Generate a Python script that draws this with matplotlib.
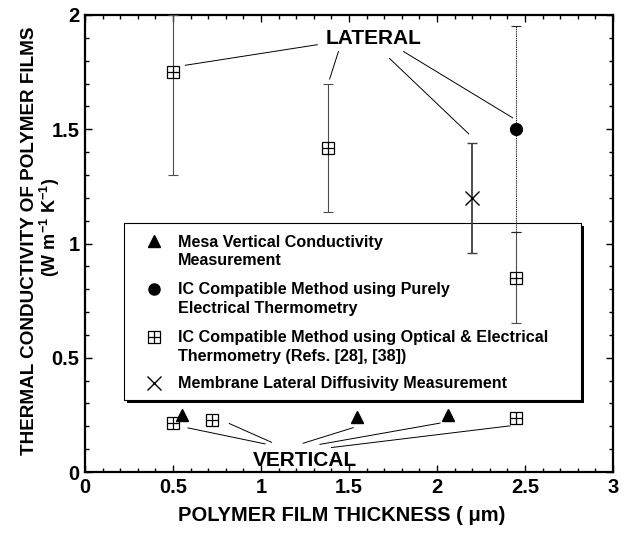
import matplotlib
matplotlib.use("Agg")
import matplotlib.pyplot as plt
from matplotlib.patches import Rectangle
from matplotlib.ticker import MultipleLocator

plt.rcParams['font.family'] = ['Liberation Sans', 'DejaVu Sans']
plt.rcParams['font.weight'] = 'bold'
plt.rcParams['mathtext.default'] = 'regular'

# lateral measurements (value, lower end, upper end of error bar)
lat_sq_x = [0.5, 1.38, 2.45]
lat_sq_y = [1.75, 1.42, 0.85]
lat_sq_lo = [1.30, 1.14, 0.65]
lat_sq_hi = [2.00, 1.70, 1.05]

circ_x = [2.45]
circ_y = [1.50]
circ_lo = [1.05]
circ_hi = [1.95]

memb_x = [2.20]
memb_y = [1.20]
memb_lo = [0.96]
memb_hi = [1.44]

# vertical measurements
mesa_x = [0.55, 1.545, 2.06]
mesa_y = [0.25, 0.24, 0.25]
vert_sq_x = [0.5, 0.72, 2.45]
vert_sq_y = [0.215, 0.227, 0.235]

# leader lines: (x0, y0, x1, y1)
lateral_leaders = [(0.57, 1.78, 1.32, 1.87),
                   (1.39, 1.72, 1.44, 1.84),
                   (2.18, 1.48, 1.73, 1.81),
                   (2.43, 1.55, 1.81, 1.84)]
vertical_leaders = [(0.585, 0.193, 1.023, 0.123),
                    (0.82, 0.212, 1.06, 0.13),
                    (1.524, 0.194, 1.24, 0.126),
                    (2.017, 0.214, 1.335, 0.121),
                    (2.415, 0.202, 1.40, 0.107)]

legend_labels = ["Mesa Vertical Conductivity\nMeasurement",
                 "IC Compatible Method using Purely\nElectrical Thermometry",
                 "IC Compatible Method using Optical & Electrical\nThermometry (Refs. [28], [38])",
                 "Membrane Lateral Diffusivity Measurement"]


def boxplus(ax, x, y, ms=8, **kw):
    ax.plot(x, y, 's', ms=ms, mfc='white', mec='black', mew=0.9, ls='none', **kw)
    ax.plot(x, y, '+', ms=ms, mec='black', mew=0.9, ls='none', **kw)


fig = plt.figure(figsize=(6.26, 5.33), dpi=100)
ax = fig.add_axes([85/626, 61/533, 528/626, 457/533])
ax.set_xlim(0, 3)
ax.set_ylim(0, 2)

# error bars
def ebar(x, y, lo, hi, **kw):
    yerr = [[v - l for v, l in zip(y, lo)], [h - v for v, h in zip(y, hi)]]
    return ax.errorbar(x, y, yerr=yerr, fmt='none', capsize=3.5, zorder=3, **kw)

ebar(lat_sq_x, lat_sq_y, lat_sq_lo, lat_sq_hi, ecolor='0.3', elinewidth=0.8, capthick=0.8)
eb = ebar(circ_x, circ_y, circ_lo, circ_hi, ecolor='0.15', elinewidth=0.8, capthick=0.8)
eb[2][0].set_linestyle((0, (1.2, 0.8)))
ebar(memb_x, memb_y, memb_lo, memb_hi, ecolor='0.25', elinewidth=1.3, capthick=1.0)

# markers
boxplus(ax, lat_sq_x, lat_sq_y, zorder=4)
boxplus(ax, vert_sq_x, vert_sq_y, zorder=4)
ax.plot(circ_x, circ_y, 'o', ms=8.5, color='black', zorder=4)
ax.plot(memb_x, memb_y, 'x', ms=9.5, mew=1.0, color='black', zorder=4)
ax.plot(mesa_x, mesa_y, '^', ms=8.5, color='black', zorder=4)

# annotations
for x0, y0, x1, y1 in lateral_leaders + vertical_leaders:
    ax.plot([x0, x1], [y0, y1], color='black', lw=0.7, zorder=3)
ax.text(1.64, 1.895, "LATERAL", ha='center', va='center', fontsize=15, fontweight='bold')
ax.text(1.25, 0.052, "VERTICAL", ha='center', va='center', fontsize=15, fontweight='bold')

# legend box with drop shadow
bx0, bx1, by0, by1 = 0.074, 0.939, 0.158, 0.545
ax.add_patch(Rectangle((bx0 + 0.006, by0 - 0.007), bx1 - bx0, by1 - by0,
                       transform=ax.transAxes, facecolor='black', edgecolor='none', zorder=1))
ax.add_patch(Rectangle((bx0, by0), bx1 - bx0, by1 - by0, transform=ax.transAxes,
                       facecolor='white', edgecolor='black', lw=0.8, zorder=1.5))
key_y = [0.5044, 0.4004, 0.2954, 0.1947]
text_y = [0.4825, 0.3786, 0.2735, 0.1947]
for i, lab in enumerate(legend_labels):
    yy = key_y[i]
    if i == 0:
        ax.plot([0.131], [yy], '^', ms=8, color='black', transform=ax.transAxes, zorder=5)
    elif i == 1:
        ax.plot([0.131], [yy], 'o', ms=8, color='black', transform=ax.transAxes, zorder=5)
    elif i == 2:
        boxplus(ax, [0.131], [yy], transform=ax.transAxes, zorder=5)
    else:
        ax.plot([0.131], [yy], 'x', ms=9.5, mew=1.0, color='black', transform=ax.transAxes, zorder=5)
    ax.text(0.176, text_y[i], lab, transform=ax.transAxes, ha='left', va='center',
            fontsize=11.6, fontweight='bold', linespacing=1.3, zorder=5)

# axes styling
for sp in ax.spines.values():
    sp.set_linewidth(1.6)
ax.xaxis.set_minor_locator(MultipleLocator(0.1))
ax.yaxis.set_minor_locator(MultipleLocator(0.1))
ax.set_xticks([0, 0.5, 1, 1.5, 2, 2.5, 3])
ax.set_xticklabels(['0', '0.5', '1', '1.5', '2', '2.5', '3'])
ax.set_yticks([0, 0.5, 1, 1.5, 2])
ax.set_yticklabels(['0', '0.5', '1', '1.5', '2'])
ax.tick_params(which='both', direction='in', top=True, right=True, width=1.0)
ax.tick_params(which='major', length=5, labelsize=14.5, pad=4)
ax.tick_params(which='minor', length=3)

ax.set_xlabel("POLYMER FILM THICKNESS ( μm)", fontsize=14.5, fontweight='bold')
ax.xaxis.set_label_coords(0.487, -0.075)
ax.text(-0.106, 0.505, "THERMAL CONDUCTIVITY OF POLYMER FILMS", transform=ax.transAxes,
        rotation=90, ha='center', va='center', fontsize=13.6, fontweight='bold')
ax.text(-0.066, 0.534, "(W m$^{-1}$ K$^{-1}$)", transform=ax.transAxes,
        rotation=90, ha='center', va='center', fontsize=13, fontweight='bold')

fig.savefig("out.png", dpi=100)
